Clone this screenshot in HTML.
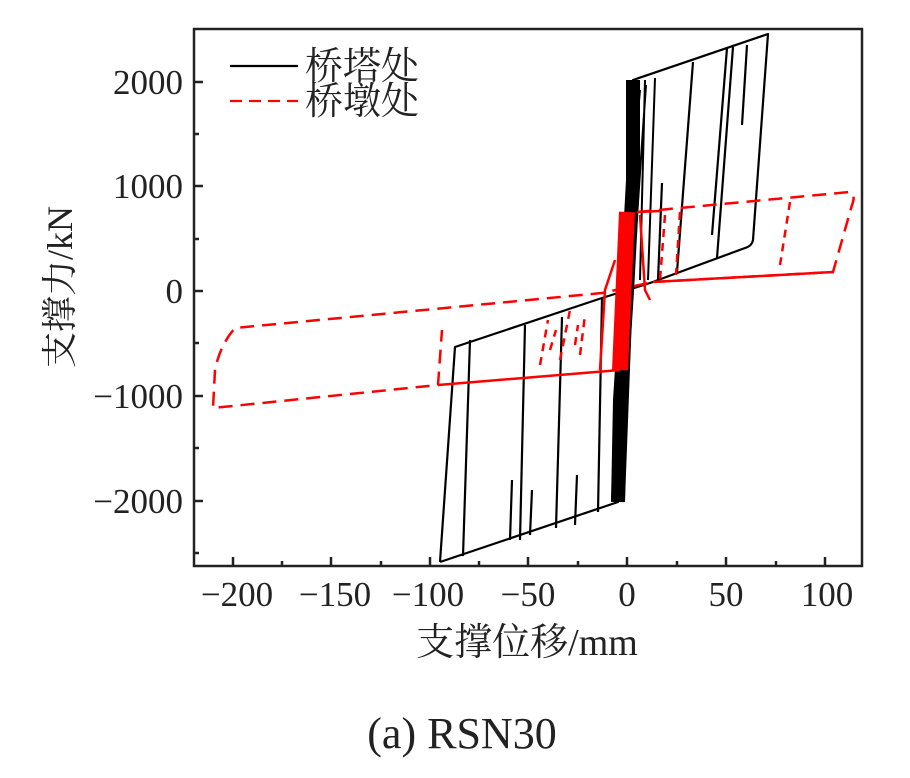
<!DOCTYPE html>
<html><head><meta charset="utf-8"><style>
html,body{margin:0;padding:0;background:#fff;}
svg text{font-family:"Liberation Serif","Noto Serif CJK SC",serif;fill:#222;}
</style></head><body>
<svg width="910" height="773" viewBox="0 0 910 773" xmlns="http://www.w3.org/2000/svg">
<g stroke="#222" stroke-width="2.5" fill="none">
<rect x="194" y="29" width="668" height="537"/>
<path d="M233 566v-9M331 566v-9M430 566v-9M528 566v-9M627 566v-9M726 566v-9M825 566v-9
M282 566v-5M381 566v-5M479 566v-5M578 566v-5M677 566v-5M776 566v-5
M194 82h9M194 186h9M194 291h9M194 396h9M194 501h9
M194 134h5M194 239h5M194 343h5M194 448h5M194 553h5"/>
</g>
<g font-size="35" text-anchor="end">
<text x="183" y="94">2000</text><text x="183" y="198">1000</text><text x="183" y="303">0</text>
<text x="183" y="408">−1000</text><text x="183" y="513">−2000</text>
</g>
<g font-size="35" text-anchor="middle">
<text x="237" y="606">−200</text><text x="335" y="606">−150</text><text x="428" y="606">−100</text>
<text x="528" y="606">−50</text><text x="627" y="606">0</text><text x="726" y="606">50</text><text x="827" y="606">100</text>
</g>
<text x="527" y="655" font-size="38" text-anchor="middle">支撑位移/mm</text>
<text transform="translate(72,287) rotate(-90)" font-size="36" text-anchor="middle">支撑力/kN</text>
<text x="462" y="748" font-size="44" text-anchor="middle">(a) RSN30</text>
<g stroke="#000" stroke-width="2.2" fill="none" stroke-linejoin="round">
<path d="M440 562 L618 502 L633 80 L768 34 L753 240 Q752 246 745 248 L650 283 L602 298 L455 347 L440 562"/>
<path d="M463 556 L470 340 M520 540 L525 325 M556 528 L562 317 M598 512 L602 298 M510 540 L512 480 M530 535 L532 490 M575 525 L577 475"/>
<path d="M677 272 L693 62 M712 235 L727 48 M717 258 L733 47 M742 125 L747 45 M658 280 L662 183"/>
<path d="M618 502 L620 400 L627 291 L633 180 L633 80" stroke-width="14"/>
<path d="M612 500 L622 290 L640 90 M624 500 L632 290 L646 85 M645 80 L640 280 M655 78 L648 280" stroke-width="2"/>
</g>
<g stroke="#f00" stroke-width="2.5" fill="none">
<path d="M637 212 L850 192 Q856 195 852 205 L833 272 L653 282 L602 293 L235 328 Q220 345 215 370 L213 408 L438 385 L442 330" stroke-dasharray="14 8"/>
<path d="M438 385 L620 370 M653 282 L833 272 M637 212 L660 211" />
<path d="M790 202 L780 265 M560 360 L570 310 M540 365 L548 320 M580 355 L585 315 M550 350 L556 330 M575 345 L578 325 M665 215 L660 280 M680 212 L676 275" stroke-dasharray="8 6"/>
<path d="M627 212 L620 370" stroke-width="16"/>
<path d="M600 370 L605 290 L615 260 M640 215 L645 290 L650 300" stroke-width="2.5"/>
</g>
<path d="M230 66 H298" stroke="#000" stroke-width="2.2"/>
<path d="M230 101 H298" stroke="#f00" stroke-width="2.2" stroke-dasharray="12 7"/>
<text x="305" y="79" font-size="38">桥塔处</text>
<text x="305" y="114" font-size="38">桥墩处</text>
</svg>
</body></html>
